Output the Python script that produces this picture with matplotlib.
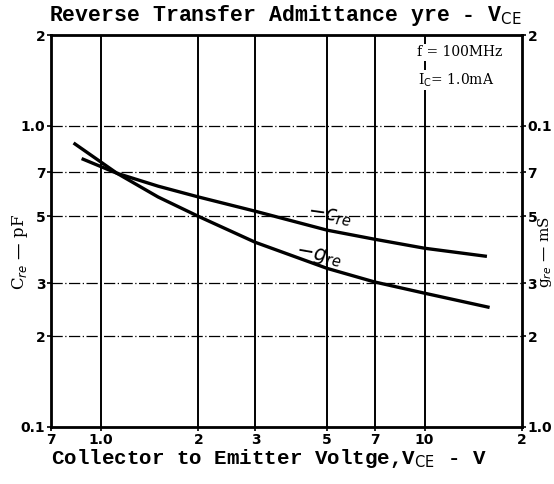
import matplotlib
matplotlib.use("Agg")
import matplotlib.pyplot as plt

# values
vce_c = [0.88, 1.12, 1.5, 2.0, 3.0, 5.0, 7.0, 10.0, 15.4]
cre = [0.774, 0.695, 0.63, 0.58, 0.52, 0.45, 0.42, 0.392, 0.369]
vce_g = [0.83, 1.12, 1.5, 2.0, 3.0, 5.0, 7.0, 10.0, 15.7]
gre = [0.87, 0.695, 0.58, 0.5, 0.41, 0.336, 0.303, 0.278, 0.25]

x_ticks = [0.7, 1.0, 2, 3, 5, 7, 10, 20]
x_labels = ["7", "1.0", "2", "3", "5", "7", "10", "2"]
y_ticks = [0.1, 0.2, 0.3, 0.5, 0.7, 1.0, 2.0]
y_labels = ["0.1", "2", "3", "5", "7", "1.0", "2"]
y2_ticks = [0.01, 0.02, 0.03, 0.05, 0.07, 0.1, 0.2]
y2_labels = ["1.0", "2", "3", "5", "7", "0.1", "2"]

mono = "Liberation Mono"

fig = plt.figure(figsize=(5.54, 4.84), dpi=100)
ax = fig.add_axes([51 / 554, 57 / 484, 471 / 554, 392 / 484])
ax.set_xscale("log")
ax.set_yscale("log")
ax.set_xlim(0.7, 20)
ax.set_ylim(0.1, 2)

# grid: solid verticals, broken horizontals
for xv in [1.0, 2, 3, 5, 7, 10]:
    ax.axvline(xv, color="black", lw=1.4, zorder=1)
for yv in [0.2, 0.3, 0.5, 0.7, 1.0]:
    ax.axhline(yv, color="black", lw=0.9, ls=(0, (9, 2, 1, 2)), zorder=1)

ax.plot(vce_c, cre, color="black", lw=2.4, zorder=3)
ax.plot(vce_g, gre, color="black", lw=2.4, zorder=3)

ax.text(4.3, 0.5, r"$-c_{re}$", fontsize=15, family="DejaVu Serif",
        rotation=-8, ha="left", va="center")
ax.text(3.95, 0.37, r"$-g_{re}$", fontsize=15, family="DejaVu Serif",
        rotation=-10, ha="left", va="center")

ax.text(12.8, 1.75, "f = 100MHz", fontsize=10, family="DejaVu Serif",
        ha="center", va="center",
        bbox=dict(facecolor="white", edgecolor="none", pad=1))
ax.text(12.5, 1.42, r"I$_{\rm C}$= 1.0mA", fontsize=10, family="DejaVu Serif",
        ha="center", va="center",
        bbox=dict(facecolor="white", edgecolor="none", pad=1))

ax.set_xticks(x_ticks)
ax.set_xticklabels(x_labels, fontsize=10, fontweight="bold")
ax.set_yticks(y_ticks)
ax.set_yticklabels(y_labels, fontsize=10, fontweight="bold")
ax.minorticks_off()
ax.tick_params(length=3, width=1.2, pad=1)
for s in ax.spines.values():
    s.set_linewidth(2)

ax2 = ax.twinx()
ax2.set_yscale("log")
ax2.set_ylim(0.01, 0.2)
ax2.set_yticks(y2_ticks)
ax2.set_yticklabels(y2_labels, fontsize=10, fontweight="bold")
ax2.minorticks_off()
ax2.tick_params(length=3, width=1.2, pad=1)

fig.text(0.515, 0.967, r"Reverse Transfer Admittance yre - V$_{\rm CE}$",
         family=mono, fontweight="bold", fontsize=15.5, ha="center", va="center")
fig.text(0.485, 0.052, r"Collector to Emitter Voltge,V$_{\rm CE}$ - V",
         family=mono, fontweight="bold", fontsize=15, ha="center", va="center")
fig.text(0.036, 0.479, r"C$_{re}$ — pF", family="DejaVu Serif", fontsize=12,
         rotation=90, ha="center", va="center")
fig.text(0.984, 0.479, r"g$_{re}$ — mS", family="DejaVu Serif", fontsize=11,
         rotation=90, ha="center", va="center")

fig.savefig("out.png", dpi=100)
